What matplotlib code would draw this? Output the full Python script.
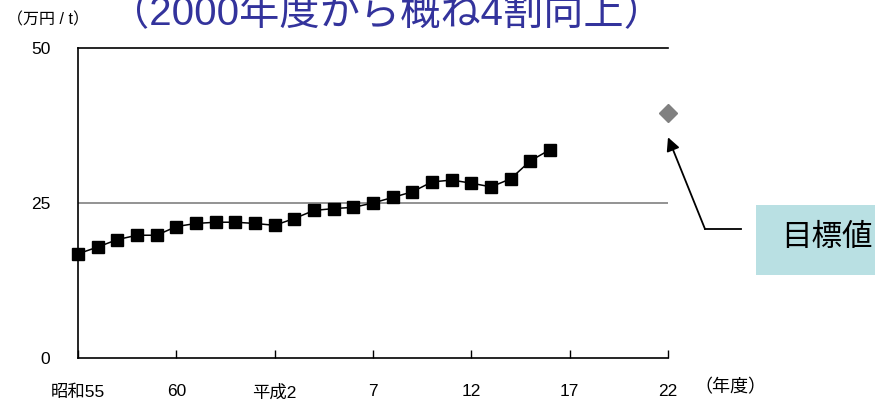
import matplotlib.pyplot as plt
from matplotlib.patches import Rectangle

plt.rcParams['font.family'] = ['Liberation Sans', 'Noto Sans CJK JP', 'DejaVu Sans']

# data
years = list(range(1980, 2005))
values = [16.8, 17.9, 19.1, 19.8, 19.8, 21.2, 21.7, 21.9, 21.9, 21.7, 21.4, 22.5,
          23.8, 24.1, 24.3, 25.0, 25.9, 26.8, 28.4, 28.7, 28.2, 27.6, 28.9, 31.8, 33.6]
target_year = [2010]
target_value = [39.5]
tick_years = [1980, 1985, 1990, 1995, 2000, 2005, 2010]
tick_labels = ['昭和55', '60', '平成2', '7', '12', '17', '22']
ref_level = 25

fig = plt.figure(figsize=(8.75, 4.01), dpi=100)
ax = fig.add_axes([78 / 875, 43 / 401, 590 / 875, 310 / 401])

ax.axhline(ref_level, color='#808080', lw=1.2, zorder=1)
ax.plot(years, values, color='black', lw=1.1, marker='s', markersize=8.5, zorder=3, clip_on=False)
ax.plot(target_year, target_value, linestyle='none', marker='D', markersize=9,
        color='#808080', clip_on=False, zorder=3)

ax.set_xlim(1980, 2010)
ax.set_ylim(0, 50)
ax.set_xticks(tick_years)
ax.set_xticklabels(tick_labels, fontsize=12.5)
ax.set_yticks([0, 25, 50])
ax.tick_params(axis='x', direction='in', length=6, pad=19, width=1)
ax.tick_params(axis='y', length=0, pad=20, labelsize=12.5)
ax.spines['right'].set_visible(False)
for s in ['left', 'bottom', 'top']:
    ax.spines[s].set_linewidth(1.2)

fig.text(48 / 875, 1 - 20 / 401, '（万円 / t）', fontsize=11.5, ha='center', va='center')
fig.text(386 / 875, 1 - 14 / 401, '（2000年度から概ね4割向上）', fontsize=29,
         color='#33339c', ha='center', va='center')
fig.text(730 / 875, 1 - 388 / 401, '（年度）', fontsize=13, ha='center', va='center')

# target box
fig.patches.append(Rectangle((756 / 875, 126 / 401), 130 / 875, 70 / 401,
                             transform=fig.transFigure, facecolor='#b9e0e3',
                             edgecolor='none', zorder=0))
fig.text(781 / 875, 1 - 238 / 401, '目標値', fontsize=22, ha='left', va='center')

# arrow
ax.annotate('', xy=(2010, 35.6), xycoords='data',
            xytext=(705 / 875, 1 - 229 / 401), textcoords='figure fraction',
            arrowprops=dict(arrowstyle='-|>', color='black', lw=1.3, mutation_scale=20,
                            shrinkA=0, shrinkB=0),
            annotation_clip=False)
fig.add_artist(plt.Line2D([705 / 875, 741 / 875], [1 - 229 / 401, 1 - 229 / 401],
                          transform=fig.transFigure, color='black', lw=1.3))

fig.savefig('out.png', dpi=100)
